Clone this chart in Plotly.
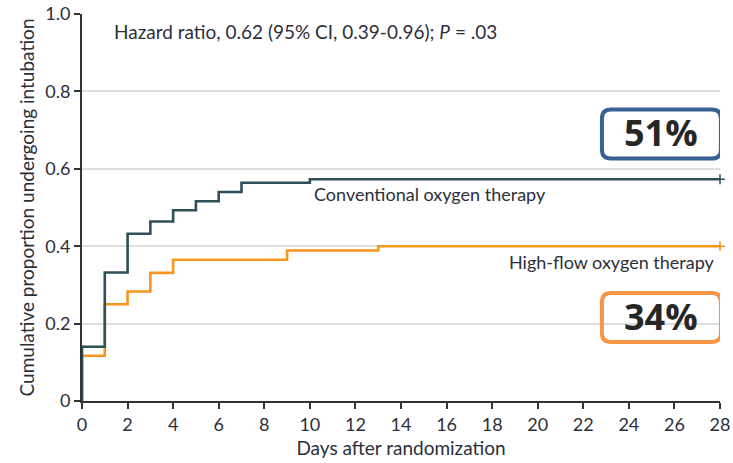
import plotly.graph_objects as go

# Kaplan-Meier step data (cumulative proportion intubated)
days_conv = [0, 0, 1, 2, 3, 4, 5, 6, 7, 10, 28]
prop_conv = [0.0, 0.14, 0.332, 0.432, 0.464, 0.493, 0.516, 0.540, 0.564, 0.573, 0.573]

days_hfot = [0, 0, 1, 2, 3, 4, 9, 13, 28]
prop_hfot = [0.0, 0.117, 0.25, 0.283, 0.331, 0.365, 0.389, 0.40, 0.40]

x_ticks = list(range(0, 29, 2))
y_ticks = [0, 0.2, 0.4, 0.6, 0.8, 1.0]
y_tick_text = ["0", "0.2", "0.4", "0.6", "0.8", "1.0"]

label_conv = "Conventional oxygen therapy"
label_hfot = "High-flow oxygen therapy"
pct_conv = "51%"
pct_hfot = "34%"

C_CONV = "#2f5058"
C_HFOT = "#f7961e"
TEXT = "#2d2f3a"
FONT = "Lato"

fig = go.Figure()
fig.add_trace(go.Scatter(x=days_hfot, y=prop_hfot, mode="lines", line=dict(color=C_HFOT, width=2.6, shape="hv"),
                         hoverinfo="skip"))
fig.add_trace(go.Scatter(x=days_conv, y=prop_conv, mode="lines", line=dict(color=C_CONV, width=2.6, shape="hv"),
                         hoverinfo="skip"))
# censoring marks at end of follow-up
fig.add_trace(go.Scatter(x=[days_hfot[-1]], y=[prop_hfot[-1]], mode="markers",
                         marker=dict(symbol="cross-thin", size=7, line=dict(color=C_HFOT, width=1.5))))
fig.add_trace(go.Scatter(x=[days_conv[-1]], y=[prop_conv[-1]], mode="markers",
                         marker=dict(symbol="cross-thin", size=7, line=dict(color=C_CONV, width=1.5))))

fig.add_annotation(x=1.3, y=0.955, xref="x", yref="y", xanchor="left", yanchor="middle", showarrow=False,
                   text="Hazard ratio, 0.62 (95% CI, 0.39-0.96); <i>P</i> = .03",
                   font=dict(family=FONT, size=19, color=TEXT))
fig.add_annotation(x=10.1, y=prop_conv[-1] - 0.004, xref="x", yref="y", xanchor="left", yanchor="top",
                   showarrow=False, text=label_conv, font=dict(family=FONT, size=18, color=TEXT))
fig.add_annotation(x=27.85, y=prop_hfot[-1] - 0.008, xref="x", yref="y", xanchor="right", yanchor="top",
                   showarrow=False, text=label_hfot, font=dict(family=FONT, size=18, color=TEXT))


def rounded_box(w, h, r):
    hw, hh = w / 2, h / 2
    return (f"M {-hw + r},{-hh} L {hw - r},{-hh} Q {hw},{-hh} {hw},{-hh + r} "
            f"L {hw},{hh - r} Q {hw},{hh} {hw - r},{hh} L {-hw + r},{hh} "
            f"Q {-hw},{hh} {-hw},{hh - r} L {-hw},{-hh + r} Q {-hw},{-hh} {-hw + r},{-hh} Z")


for yc, txt, col in [(0.690, pct_conv, "#3a6194"), (0.216, pct_hfot, "#f79646")]:
    fig.add_shape(type="path", xref="x", yref="y", xsizemode="pixel", ysizemode="pixel",
                  xanchor=25.43, yanchor=yc, path=rounded_box(119, 49, 9),
                  line=dict(color=col, width=4), fillcolor="rgba(0,0,0,0)", layer="above")
    fig.add_annotation(x=25.43, y=yc, xref="x", yref="y", showarrow=False, text=f"<b>{txt}</b>",
                       font=dict(family="Open Sans", size=36, color="#262626"), yshift=1)

axis_common = dict(showline=True, linecolor="#333333", linewidth=2, ticks="outside", ticklen=6,
                   tickwidth=1.5, tickcolor="#333333", zeroline=False, automargin=False,
                   tickfont=dict(family=FONT, size=18, color=TEXT))
fig.update_xaxes(range=[0, 28], tickvals=x_ticks, showgrid=False,
                 title=dict(text="Days after randomization", font=dict(family=FONT, size=19, color=TEXT),
                            standoff=8), **axis_common)
fig.update_yaxes(range=[0, 1.0], tickvals=y_ticks, ticktext=y_tick_text, showgrid=True,
                 gridcolor="#dedede", gridwidth=1.5,
                 title=dict(text="Cumulative proportion undergoing intubation",
                            font=dict(family=FONT, size=19, color=TEXT), standoff=6), **axis_common)

fig.update_layout(width=733, height=463, margin=dict(l=82, r=13, t=14, b=62, autoexpand=False),
                  showlegend=False, plot_bgcolor="white", paper_bgcolor="white")
for tr in fig.data:
    tr.cliponaxis = False

fig.write_html("out.html")
